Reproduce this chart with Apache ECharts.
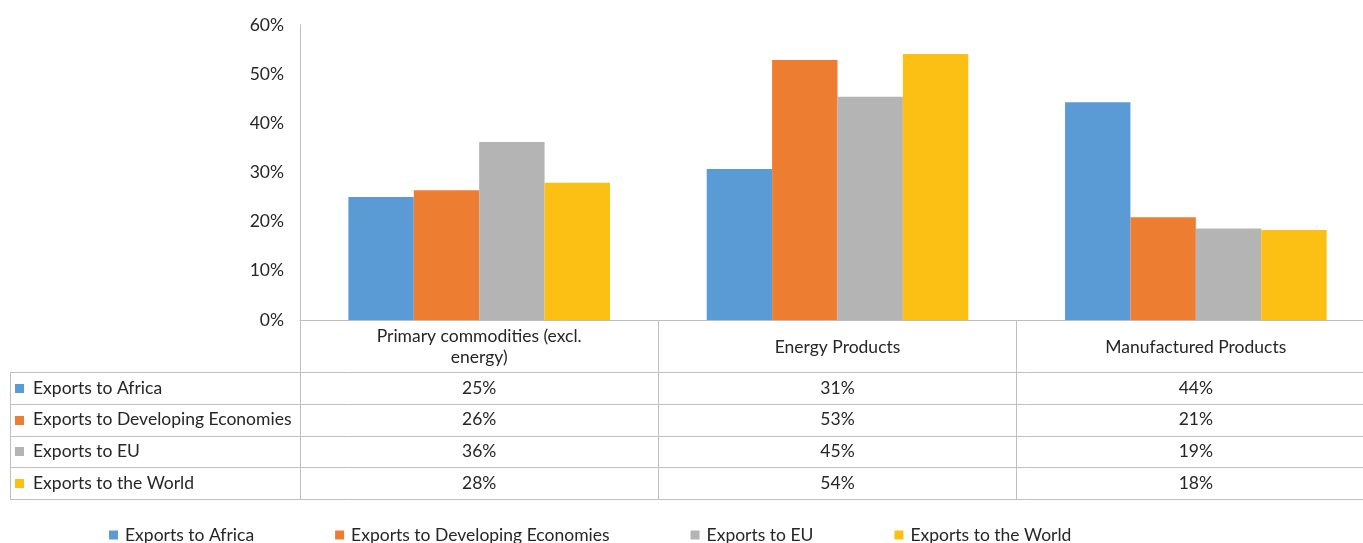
<!DOCTYPE html>
<html><head><meta charset="utf-8">
<script src="https://cdn.jsdelivr.net/npm/echarts@6/dist/echarts.min.js"></script>
<style>html,body{margin:0;padding:0;background:#fff}#c{width:1363px;height:543px}</style>
</head><body><div id="c"></div>
<script>
const categories = ['Primary commodities (excl. energy)', 'Energy Products', 'Manufactured Products'];
const headerLabels = ['Primary commodities (excl.\nenergy)', 'Energy Products', 'Manufactured Products'];
const seriesNames = ['Exports to Africa', 'Exports to Developing Economies', 'Exports to EU', 'Exports to the World'];
const africa = [25.0, 30.7, 44.3];
const developing = [26.4, 52.9, 20.9];
const eu = [36.2, 45.4, 18.6];
const world = [27.9, 54.1, 18.3];
const yTicks = [0, 10, 20, 30, 40, 50, 60];
const colors = ['#5B9BD5', '#ED7D31', '#B4B4B4', '#FCBF14'];

const seriesData = [africa, developing, eu, world];
const FONT = 'Lato';
const FS = 17.5;
const TXT = '#262626';
const LINE = '#BFBFBF';

const chart = echarts.init(document.getElementById('c'), null, {renderer: 'canvas'});
const gridLeft = 300, gridTop = 25, gridBottomY = 320, gridWidth = 1075;
const tableLeft = 10, headerBottom = 372, rowH = 31.75;

const option = {
  animation: false,
  color: colors,
  textStyle: {fontFamily: FONT},
  grid: {left: gridLeft, top: gridTop, width: gridWidth, height: gridBottomY - gridTop, outerBoundsMode: 'none', containLabel: false},
  xAxis: {
    type: 'category', data: categories,
    axisLine: {show: true, lineStyle: {color: LINE, width: 1}},
    axisTick: {show: true, length: 179, lineStyle: {color: LINE, width: 1}},
    axisLabel: {show: false}
  },
  yAxis: {
    type: 'value', min: yTicks[0], max: yTicks[yTicks.length - 1], interval: 10,
    axisLine: {show: true, lineStyle: {color: LINE, width: 1}},
    axisTick: {show: false},
    splitLine: {show: false},
    axisLabel: {formatter: v => v + '%', color: TXT, fontSize: FS, fontFamily: FONT, margin: 16}
  },
  legend: {
    top: 521, left: 104, itemGap: 81, itemWidth: 9, itemHeight: 9, icon: 'rect',
    textStyle: {fontSize: FS, color: TXT, fontFamily: FONT, padding: [0, 0, 0, 2]},
    data: seriesNames
  },
  series: seriesNames.map((n, i) => ({
    name: n, type: 'bar', data: seriesData[i],
    barGap: '0%', barCategoryGap: '27%',
    itemStyle: {color: colors[i]}
  }))
};
chart.setOption(option);

const g = [];
const rightX = gridLeft + gridWidth;
const rowLines = [headerBottom];
for (let r = 1; r <= seriesNames.length; r++) rowLines.push(headerBottom + r * rowH);
rowLines.forEach(y => g.push({type: 'line', shape: {x1: tableLeft, y1: Math.round(y) + 0.5, x2: rightX, y2: Math.round(y) + 0.5}, style: {stroke: LINE, lineWidth: 1}}));
g.push({type: 'line', shape: {x1: tableLeft + 0.5, y1: headerBottom, x2: tableLeft + 0.5, y2: Math.round(rowLines[rowLines.length - 1]) + 0.5}, style: {stroke: LINE, lineWidth: 1}});
categories.forEach((c, ci) => {
  const cx = chart.convertToPixel({xAxisIndex: 0}, c);
  g.push({type: 'text', x: cx, y: (gridBottomY + headerBottom) / 2 + 1, style: {text: headerLabels[ci], fill: TXT, font: FS + 'px ' + FONT, align: 'center', verticalAlign: 'middle', lineHeight: 21}});
  seriesData.forEach((arr, si) => {
    const cy = headerBottom + si * rowH + rowH / 2;
    g.push({type: 'text', x: cx, y: cy, style: {text: Math.round(arr[ci]) + '%', fill: TXT, font: FS + 'px ' + FONT, align: 'center', verticalAlign: 'middle'}});
  });
});
seriesNames.forEach((n, si) => {
  const cy = headerBottom + si * rowH + rowH / 2;
  g.push({type: 'rect', shape: {x: 15, y: Math.round(cy) - 4, width: 9, height: 9}, style: {fill: colors[si]}});
  g.push({type: 'text', x: 33, y: cy, style: {text: n, fill: TXT, font: FS + 'px ' + FONT, align: 'left', verticalAlign: 'middle'}});
});
chart.setOption({graphic: {elements: g}});
</script></body></html>
